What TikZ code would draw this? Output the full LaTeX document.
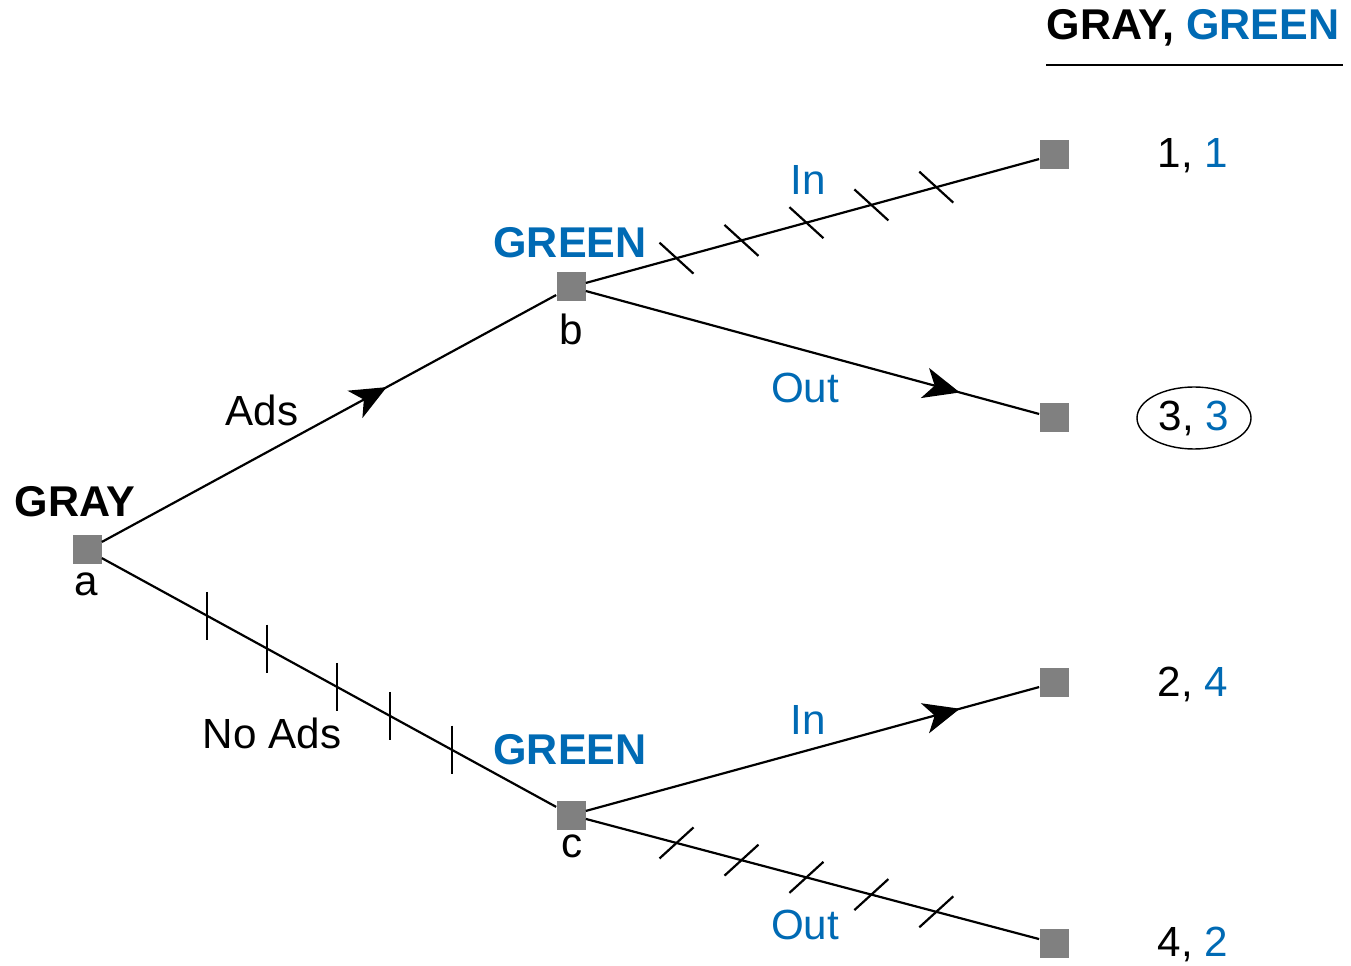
\documentclass[tikz,border=0pt]{standalone}
\usepackage{fontspec}
\setmainfont{Liberation Sans}
\usetikzlibrary{arrows.meta,shapes.geometric,decorations.markings}
\definecolor{pblue}{RGB}{0,106,180}
\definecolor{sqgray}{RGB}{128,128,128}
\newcommand\hatch[2]{\pgftransformresetnontranslations
  \draw[line width=1.25pt] ({-(#1)},{-(#2)}) -- (#1,#2);}
\begin{document}
\begin{tikzpicture}[x=0.2mm,y=-0.2mm,
  font=\fontsize{24}{28}\selectfont,
  dec/.style={fill=sqgray,minimum size=5.8mm,inner sep=0pt},
  who/.style={font=\fontsize{24.5}{28}\selectfont\bfseries},
  act/.style={text=pblue},
  pay/.style={inner sep=1pt},
  edge/.style={line width=1.25pt},
  go/.style={postaction={decorate},decoration={markings,
    mark=at position #1 with {\arrow{Stealth[length=7.2mm,width=6.2mm,inset=2mm]}}}},
  vcut/.style={postaction={decorate},decoration={markings,
    mark=at position 0.232 with {\hatch{0}{24}},
    mark=at position 0.364 with {\hatch{0}{24}},
    mark=at position 0.518 with {\hatch{0}{24}},
    mark=at position 0.634 with {\hatch{0}{24}},
    mark=at position 0.770 with {\hatch{0}{24}}}},
  dcut/.style 2 args={postaction={decorate},decoration={markings,
    mark=between positions 0.2 and 0.78 step 0.1433 with {\hatch{#1}{#2}}}}]
\useasboundingbox (0,0) rectangle (1351,966);
% header
\node[who] (hd) at (1193,28) {GRAY, \textcolor{pblue}{GREEN}};
\coordinate (r1) at (1046,65);
\coordinate (r2) at (1343,65);
\draw[edge] (r1) -- (r2);
% decision nodes
\node[dec] (a) at (87,550)  {};
\node[dec] (b) at (571,287) {};
\node[dec] (c) at (571,815) {};
\node[who]          at (75,502)  {GRAY};
\node               at (86,584)  {a};
\node[who,act]      at (570,243) {GREEN};
\node               at (571,329) {b};
\node[who,act]      at (570,750) {GREEN};
\node               at (572,846) {c};
% end nodes
\node[dec] (t1) at (1054,155) {};
\node[dec] (t2) at (1054,418) {};
\node[dec] (t3) at (1054,683) {};
\node[dec] (t4) at (1054,943) {};
\node[pay] (p1) at (1193,156) {1, \textcolor{pblue}{1}};
\node[pay,draw,ellipse,line width=0.8pt,minimum width=22.8mm,minimum height=12.4mm]
           (p2) at (1194,418) {3, \textcolor{pblue}{3}};
\node[pay] (p3) at (1193,684) {2, \textcolor{pblue}{4}};
\node[pay] (p4) at (1193,944) {4, \textcolor{pblue}{2}};
% moves
\draw[edge,go=0.627] (a) -- (b);
\draw[edge,vcut] (a) -- (c);
\draw[edge,dcut={17}{15.5}] (b) -- (t1);
\draw[edge,go=0.825] (b) -- (t2);
\draw[edge,go=0.825] (c) -- (t3);
\draw[edge,dcut={17}{-15.5}] (c) -- (t4);
\node          at (262,410) {Ads};
\node          at (272,733) {No Ads};
\node[act]     at (808,180) {In};
\node[act]     at (805,388) {Out};
\node[act]     at (808,720) {In};
\node[act]     at (805,925) {Out};
\end{tikzpicture}
\end{document}
